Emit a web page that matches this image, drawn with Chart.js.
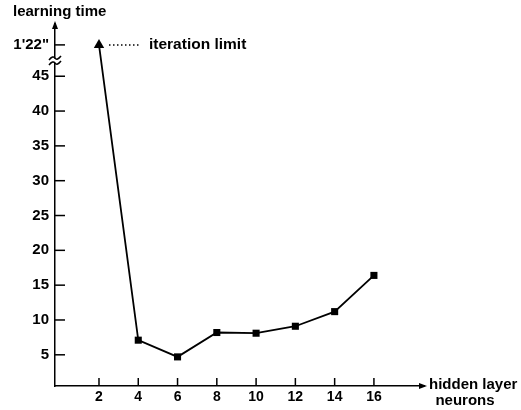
<!DOCTYPE html>
<html>
<head>
<meta charset="utf-8">
<script src="https://cdn.jsdelivr.net/npm/chart.js@4.4.0/dist/chart.umd.min.js"></script>
<style>
  html, body { margin: 0; padding: 0; background: #fff; }
  #wrap { width: 521px; height: 410px; position: relative; }
</style>
</head>
<body>
<div id="wrap"><canvas id="chart" width="521" height="410"></canvas></div>
<script>
// data
var neurons = [2, 4, 6, 8, 10, 12, 14, 16];
// first point hit the iteration limit (1'22"), drawn above the axis break
var learningTime = [49.5, 7.1, 4.7, 8.2, 8.1, 9.1, 11.2, 16.4];
var pointShapes = ['triangle', 'rect', 'rect', 'rect', 'rect', 'rect', 'rect', 'rect'];

var yTicks = [5, 10, 15, 20, 25, 30, 35, 40, 45, 49.5];
var yTickLabels = ['5', '10', '15', '20', '25', '30', '35', '40', '45', '1\'22"'];
var xTicks = [2, 4, 6, 8, 10, 12, 14, 16];

var FONT = "'Liberation Sans', Arial, sans-serif";

// axis arrows, inward tick marks, the axis break and the text labels
var decorations = {
	id: 'decorations',
	afterDraw: function(chart) {
		var ctx = chart.ctx;
		var x = chart.scales.x, y = chart.scales.y;
		var left = x.left, bottom = y.bottom, top = y.top, right = x.right;
		ctx.save();
		ctx.strokeStyle = '#000';
		ctx.fillStyle = '#000';
		ctx.lineWidth = 1.5;

		// tick marks pointing into the plot
		yTicks.forEach(function(v) {
			var py = y.getPixelForValue(v);
			ctx.beginPath();
			ctx.moveTo(left, py);
			ctx.lineTo(left + 10, py);
			ctx.stroke();
		});
		xTicks.forEach(function(v) {
			var px = x.getPixelForValue(v);
			ctx.beginPath();
			ctx.moveTo(px, bottom);
			ctx.lineTo(px, bottom - 8);
			ctx.stroke();
		});

		// arrow heads
		ctx.beginPath();
		ctx.moveTo(left, top - 3);
		ctx.lineTo(left - 3, top + 5);
		ctx.lineTo(left + 3, top + 5);
		ctx.closePath();
		ctx.fill();
		ctx.beginPath();
		ctx.moveTo(right + 3, bottom);
		ctx.lineTo(right - 5, bottom - 3);
		ctx.lineTo(right - 5, bottom + 3);
		ctx.closePath();
		ctx.fill();

		// axis break between 45 and 1'22"
		var by = (y.getPixelForValue(45) + y.getPixelForValue(49.5)) / 2;
		ctx.fillStyle = '#fff';
		ctx.fillRect(left - 2, by - 2, 4, 4);
		ctx.fillStyle = '#000';
		[-2.5, 2.5].forEach(function(d) {
			ctx.beginPath();
			ctx.moveTo(left - 6, by + d + 2);
			ctx.quadraticCurveTo(left - 2, by + d - 3, left, by + d);
			ctx.quadraticCurveTo(left + 2, by + d + 3, left + 6, by + d - 2);
			ctx.stroke();
		});

		// dotted leader and text for the iteration limit
		var ly = y.getPixelForValue(49.5);
		ctx.lineWidth = 1.5;
		ctx.setLineDash([1.5, 2.5]);
		ctx.beginPath();
		ctx.moveTo(x.getPixelForValue(2) + 10, ly);
		ctx.lineTo(x.getPixelForValue(2) + 42, ly);
		ctx.stroke();
		ctx.setLineDash([]);

		ctx.font = 'bold 15.5px ' + FONT;
		ctx.textBaseline = 'middle';
		ctx.textAlign = 'left';
		ctx.fillText('iteration limit', x.getPixelForValue(2) + 50, ly);

		ctx.font = 'bold 15px ' + FONT;
		ctx.fillText('learning time', 13, 12);
		ctx.fillText('hidden layer', right + 5, bottom - 1);
		ctx.textAlign = 'center';
		ctx.fillText('neurons', right + 41, bottom + 15);
		ctx.restore();
	}
};

new Chart(document.getElementById('chart'), {
	type: 'line',
	data: {
		datasets: [{
			label: 'learning time',
			data: neurons.map(function(n, i) { return { x: n, y: learningTime[i] }; }),
			borderColor: '#000',
			backgroundColor: '#000',
			borderWidth: 1.8,
			pointStyle: pointShapes,
			pointRadius: [6, 5, 5, 5, 5, 5, 5, 5],
			pointBorderWidth: 0,
			tension: 0
		}]
	},
	options: {
		responsive: false,
		animation: false,
		devicePixelRatio: 1,
		layout: { padding: { top: 24, right: 97, left: 0, bottom: 0 } },
		plugins: {
			legend: { display: false },
			tooltip: { enabled: false }
		},
		scales: {
			x: {
				type: 'linear',
				min: -0.24,
				max: 18.55,
				afterBuildTicks: function(scale) {
					scale.ticks = xTicks.map(function(v) { return { value: v }; });
				},
				afterFit: function(scale) { scale.height = 24; },
				grid: { drawOnChartArea: false, drawTicks: false },
				border: { color: '#000', width: 1.5 },
				ticks: {
					color: '#000',
					padding: 3,
					maxRotation: 0,
					autoSkip: false,
					font: { family: FONT, size: 14, weight: 'bold' }
				}
			},
			y: {
				type: 'linear',
				min: 0.52,
				max: 52.5,
				afterBuildTicks: function(scale) {
					scale.ticks = yTicks.map(function(v) { return { value: v }; });
				},
				afterFit: function(scale) { scale.width = 55; },
				grid: { drawOnChartArea: false, drawTicks: false },
				border: { color: '#000', width: 1.5 },
				ticks: {
					color: '#000',
					padding: 6,
					autoSkip: false,
					font: { family: FONT, size: 15, weight: 'bold' },
					callback: function(value, index) { return yTickLabels[index]; }
				}
			}
		}
	},
	plugins: [decorations]
});
</script>
</body>
</html>
